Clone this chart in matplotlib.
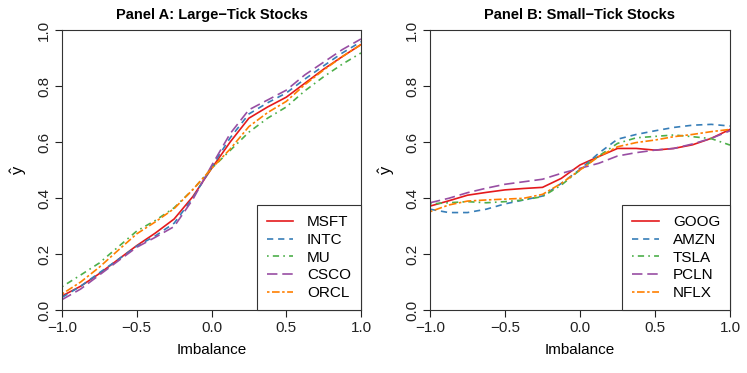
import matplotlib
matplotlib.use("Agg")
import matplotlib.pyplot as plt
import numpy as np

plt.rcParams['font.family'] = ['Liberation Sans', 'DejaVu Sans']
plt.rcParams['lines.scale_dashes'] = False
plt.rcParams['mathtext.default'] = 'regular'

imbalance = [-1.0, -0.875, -0.75, -0.625, -0.5, -0.375, -0.25, -0.125, 0.0,
             0.125, 0.25, 0.375, 0.5, 0.625, 0.75, 0.875, 1.0]

# Panel A: Large-Tick Stocks
large_names = ["MSFT", "INTC", "MU", "CSCO", "ORCL"]
msft = [0.05, 0.085, 0.13, 0.18, 0.23, 0.275, 0.325, 0.405, 0.505, 0.60, 0.685, 0.725, 0.76, 0.81, 0.86, 0.905, 0.948]
intc = [0.045, 0.085, 0.133, 0.18, 0.228, 0.265, 0.31, 0.40, 0.51, 0.615, 0.70, 0.74, 0.775, 0.825, 0.872, 0.918, 0.958]
mu = [0.083, 0.125, 0.168, 0.225, 0.282, 0.32, 0.365, 0.43, 0.505, 0.57, 0.635, 0.685, 0.725, 0.783, 0.833, 0.878, 0.918]
csco = [0.037, 0.075, 0.125, 0.175, 0.224, 0.26, 0.298, 0.395, 0.515, 0.63, 0.715, 0.75, 0.785, 0.84, 0.885, 0.93, 0.968]
orcl = [0.057, 0.10, 0.153, 0.213, 0.272, 0.315, 0.362, 0.43, 0.505, 0.575, 0.655, 0.705, 0.745, 0.805, 0.857, 0.905, 0.948]

# Panel B: Small-Tick Stocks
small_names = ["GOOG", "AMZN", "TSLA", "PCLN", "NFLX"]
goog = [0.371, 0.39, 0.41, 0.42, 0.429, 0.434, 0.438, 0.47, 0.518, 0.548, 0.577, 0.577, 0.571, 0.577, 0.59, 0.613, 0.645]
amzn = [0.36, 0.348, 0.348, 0.36, 0.379, 0.393, 0.407, 0.452, 0.502, 0.56, 0.61, 0.627, 0.64, 0.652, 0.66, 0.663, 0.657]
tsla = [0.379, 0.383, 0.387, 0.383, 0.387, 0.393, 0.405, 0.446, 0.50, 0.55, 0.595, 0.615, 0.62, 0.625, 0.619, 0.612, 0.589]
pcln = [0.383, 0.399, 0.419, 0.435, 0.449, 0.458, 0.467, 0.488, 0.506, 0.524, 0.55, 0.562, 0.571, 0.577, 0.593, 0.613, 0.64]
nflx = [0.351, 0.375, 0.389, 0.393, 0.396, 0.399, 0.413, 0.452, 0.50, 0.548, 0.583, 0.598, 0.607, 0.619, 0.627, 0.637, 0.645]

colors = ["#E41A1C", "#377EB8", "#4DAF4A", "#984EA3", "#FF7F00"]
styles = ["-", (0, (4.5, 3.5)), (0, (1.2, 3, 4.5, 3)), (0, (7.5, 3.5)), (0, (1.8, 1.8, 5.5, 1.8))]

ticks_x = [-1.0, -0.5, 0.0, 0.5, 1.0]
ticks_y = [0.0, 0.2, 0.4, 0.6, 0.8, 1.0]

fig = plt.figure(figsize=(7.47, 3.73), dpi=100)
axA = fig.add_axes([62/747, 1 - 310/373, 299/747, 280/373])
axB = fig.add_axes([430/747, 1 - 310/373, 300/747, 280/373])

def style_ax(ax, title, names, series):
    for n, s, c, ls in zip(names, series, colors, styles):
        ax.plot(imbalance, s, color=c, linestyle=ls, linewidth=1.2, label=n)
    ax.set_xlim(-1, 1)
    ax.set_ylim(0, 1)
    ax.set_xticks(ticks_x)
    ax.set_xticklabels(["\u22121.0", "\u22120.5", "0.0", "0.5", "1.0"])
    ax.set_yticks(ticks_y)
    ax.set_yticklabels([f"{t:.1f}" for t in ticks_y], rotation=90, va='center')
    ax.tick_params(direction='out', length=5, width=0.8, labelsize=11, pad=3, colors='#222222')
    for sp in ax.spines.values():
        sp.set_linewidth(0.8)
        sp.set_color('#333333')
    ax.set_title(title, fontsize=10.5, fontweight='bold', pad=8)
    ax.set_xlabel("Imbalance", fontsize=11, labelpad=6)
    ax.set_ylabel(r"$\hat{y}$", fontsize=12, labelpad=6)
    leg = ax.legend(loc='lower right', fontsize=11, frameon=True, fancybox=False,
                    handlelength=1.75, handletextpad=0.9, borderpad=0.65,
                    labelspacing=0.24, borderaxespad=0.0)
    leg.get_frame().set_edgecolor('#333333')
    leg.get_frame().set_linewidth(0.8)
    leg.get_frame().set_alpha(1.0)

style_ax(axA, "Panel A: Large\u2212Tick Stocks", large_names, [msft, intc, mu, csco, orcl])
style_ax(axB, "Panel B: Small\u2212Tick Stocks", small_names, [goog, amzn, tsla, pcln, nflx])

fig.savefig("out.png", dpi=100)
